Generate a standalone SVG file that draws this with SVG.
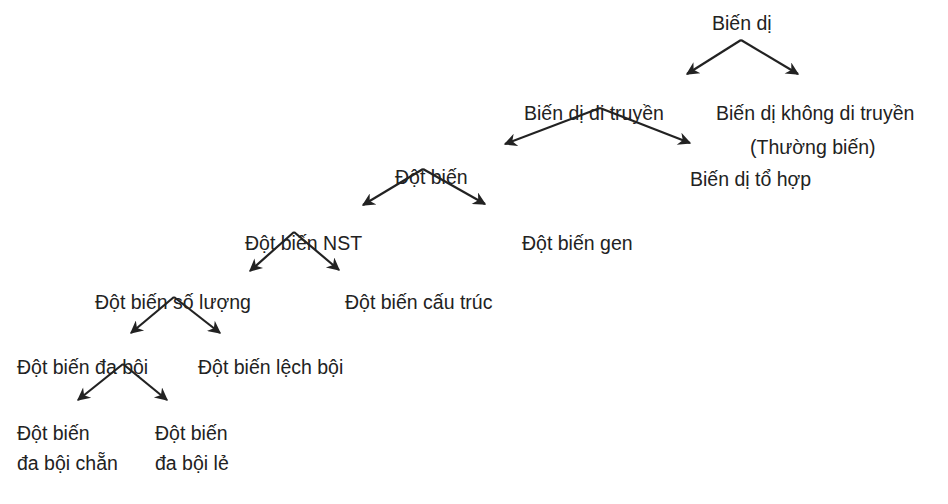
<svg xmlns="http://www.w3.org/2000/svg" width="948" height="504" viewBox="0 0 948 504">
<defs>
<marker id="ah" viewBox="0 0 10 10" refX="9" refY="5" markerWidth="20" markerHeight="13" markerUnits="userSpaceOnUse" orient="auto"><path d="M0,0 L10,5 L0,10 L3,5 Z" fill="#222"/></marker>
<style>
text{font-family:"Liberation Sans",Arial,sans-serif;font-size:19.5px;fill:#222}
.c line{stroke:#222;stroke-width:2.2;marker-end:url(#ah)}
</style>
</defs>
<rect width="948" height="504" fill="#fff"/>
<g class="c" id="connectors">
<line x1="741" y1="40" x2="687" y2="74"/>
<line x1="741" y1="40" x2="798" y2="74"/>
<line x1="600" y1="108" x2="505" y2="144"/>
<line x1="600" y1="108" x2="690" y2="143"/>
<line x1="423" y1="169" x2="363" y2="205"/>
<line x1="423" y1="169" x2="485" y2="204"/>
<line x1="294" y1="232" x2="250" y2="271"/>
<line x1="294" y1="232" x2="339" y2="270"/>
<line x1="174" y1="297" x2="131" y2="333"/>
<line x1="174" y1="297" x2="220" y2="333"/>
<line x1="123" y1="364" x2="78" y2="400"/>
<line x1="123" y1="364" x2="167" y2="400"/>
</g>
<g id="n1"><text x="712" y="30">Biến dị</text></g>
<g id="n2"><text x="524" y="120">Biến dị di truyền</text></g>
<g id="n3"><text x="716" y="120">Biến dị không di truyền</text><text x="750" y="154">(Thường biến)</text></g>
<g id="n4"><text x="690" y="186">Biến dị tổ hợp</text></g>
<g id="n5"><text x="395" y="184">Đột biến</text></g>
<g id="n6"><text x="522" y="250">Đột biến gen</text></g>
<g id="n7"><text x="245" y="250">Đột biến NST</text></g>
<g id="n8"><text x="345" y="309">Đột biến cấu trúc</text></g>
<g id="n9"><text x="95" y="309">Đột biến số lượng</text></g>
<g id="n10"><text x="17" y="374">Đột biến đa bội</text></g>
<g id="n11"><text x="198" y="374">Đột biến lệch bội</text></g>
<g id="n12"><text x="17" y="440">Đột biến</text><text x="17" y="470">đa bội chẵn</text></g>
<g id="n13"><text x="155" y="440">Đột biến</text><text x="155" y="470">đa bội lẻ</text></g>
</svg>
